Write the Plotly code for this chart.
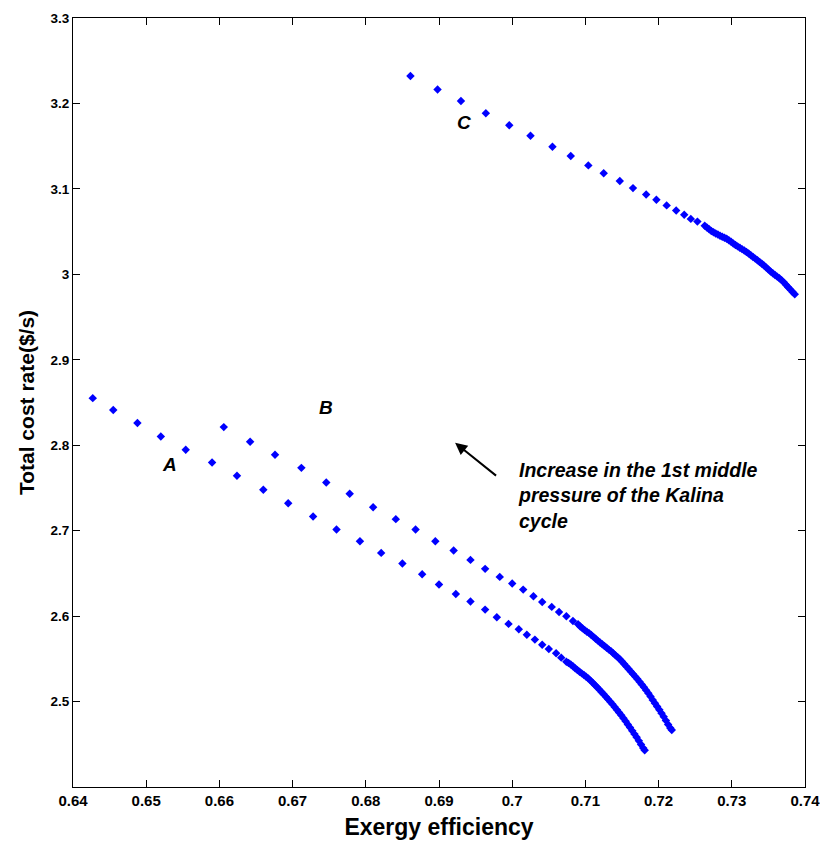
import plotly.graph_objects as go

# Pareto fronts: exergy efficiency vs. total cost rate ($/s)
a_eff = [0.6427, 0.6455, 0.6488, 0.6520, 0.6554, 0.6590, 0.6624, 0.6660, 0.6694, 0.6728,
         0.6760, 0.6792, 0.6821, 0.6850, 0.6877, 0.6900, 0.6923, 0.6943, 0.6963, 0.6979,
         0.6995, 0.7009, 0.7020, 0.7031, 0.7041, 0.7050, 0.7060, 0.7067, 0.7074,
         0.7077, 0.7080, 0.7083, 0.7086, 0.7089, 0.7092, 0.7095, 0.7098, 0.7101, 0.7104,
         0.7107, 0.7110, 0.7113, 0.7116, 0.7119, 0.7122, 0.7125, 0.7128, 0.7131, 0.7134,
         0.7137, 0.7140, 0.7143, 0.7146, 0.7149, 0.7152, 0.7155, 0.7158, 0.7161, 0.7164,
         0.7167, 0.7170, 0.7173, 0.7176, 0.7179, 0.7181]
a_cost = [2.8551, 2.8411, 2.8259, 2.8102, 2.7946, 2.7797, 2.7642, 2.7478, 2.7322, 2.7165,
          2.7013, 2.6875, 2.6740, 2.6615, 2.6491, 2.6369, 2.6260, 2.6170, 2.6076, 2.5987,
          2.5909, 2.5847, 2.5783, 2.5725, 2.5666, 2.5616, 2.5566, 2.5514, 2.5467,
          2.5452, 2.5433, 2.5412, 2.5390, 2.5369, 2.5349, 2.5330, 2.5310, 2.5291, 2.5270,
          2.5245, 2.5219, 2.5194, 2.5168, 2.5140, 2.5113, 2.5086, 2.5057, 2.5027, 2.4998,
          2.4968, 2.4937, 2.4905, 2.4873, 2.4840, 2.4805, 2.4770, 2.4732, 2.4695, 2.4657,
          2.4619, 2.4582, 2.4540, 2.4497, 2.4455, 2.4430]

b_eff = [0.6606, 0.6642, 0.6676, 0.6712, 0.6746, 0.6778, 0.6810, 0.6841, 0.6868, 0.6895,
         0.6920, 0.6943, 0.6963, 0.6983, 0.7000, 0.7015, 0.7029, 0.7041, 0.7054, 0.7064,
         0.7074, 0.7083, 0.7090,
         0.7093, 0.7096, 0.7099, 0.7102, 0.7105, 0.7108, 0.7111, 0.7114, 0.7117, 0.7120,
         0.7123, 0.7126, 0.7129, 0.7132, 0.7135, 0.7138, 0.7141, 0.7144, 0.7147, 0.7150,
         0.7153, 0.7156, 0.7159, 0.7162, 0.7165, 0.7168, 0.7171, 0.7174, 0.7177, 0.7180,
         0.7183, 0.7186, 0.7189, 0.7192, 0.7195, 0.7198, 0.7201, 0.7204, 0.7207, 0.7210,
         0.7213, 0.7216, 0.7218]
b_cost = [2.8212, 2.8040, 2.7888, 2.7735, 2.7563, 2.7431, 2.7275, 2.7135, 2.7013, 2.6877,
          2.6767, 2.6658, 2.6553, 2.6459, 2.6381, 2.6310, 2.6233, 2.6166, 2.6108, 2.6049,
          2.5999, 2.5944, 2.5905,
          2.5878, 2.5857, 2.5836, 2.5818, 2.5801, 2.5780, 2.5757, 2.5734, 2.5713, 2.5692,
          2.5670, 2.5650, 2.5629, 2.5608, 2.5590, 2.5566, 2.5543, 2.5520, 2.5495, 2.5468,
          2.5440, 2.5411, 2.5381, 2.5352, 2.5322, 2.5293, 2.5263, 2.5232, 2.5200, 2.5167,
          2.5132, 2.5096, 2.5058, 2.5019, 2.4981, 2.4943, 2.4903, 2.4863, 2.4821, 2.4777,
          2.4732, 2.4690, 2.4668]

c_eff = [0.6861, 0.6898, 0.6930, 0.6964, 0.6996, 0.7025, 0.7055, 0.7080, 0.7104, 0.7125,
         0.7147, 0.7165, 0.7183, 0.7197, 0.7211, 0.7224, 0.7235, 0.7244, 0.7253, 0.7263,
         0.7266, 0.7269, 0.7272, 0.7275, 0.7278, 0.7281, 0.7284, 0.7287, 0.7290, 0.7293,
         0.7296, 0.7299, 0.7302, 0.7305, 0.7308, 0.7311, 0.7314, 0.7317, 0.7320, 0.7323,
         0.7326, 0.7329, 0.7332, 0.7335, 0.7338, 0.7341, 0.7344, 0.7347, 0.7350, 0.7353,
         0.7356, 0.7359, 0.7362, 0.7365, 0.7368, 0.7371, 0.7374, 0.7377, 0.7380, 0.7383,
         0.7386]
c_cost = [3.2322, 3.2164, 3.2029, 3.1886, 3.1744, 3.1621, 3.1493, 3.1386, 3.1275, 3.1184,
          3.1092, 3.1009, 3.0934, 3.0874, 3.0807, 3.0748, 3.0697, 3.0649, 3.0617, 3.0569,
          3.0547, 3.0527, 3.0508, 3.0492, 3.0479, 3.0466, 3.0452, 3.0440, 3.0429, 3.0417,
          3.0399, 3.0381, 3.0362, 3.0344, 3.0327, 3.0311, 3.0295, 3.0278, 3.0261, 3.0243,
          3.0224, 3.0204, 3.0184, 3.0164, 3.0145, 3.0125, 3.0104, 3.0081, 3.0057, 3.0034,
          3.0013, 2.9993, 2.9973, 2.9954, 2.9932, 2.9906, 2.9879, 2.9850, 2.9822, 2.9794,
          2.9766]

x_ticks = [0.64, 0.65, 0.66, 0.67, 0.68, 0.69, 0.70, 0.71, 0.72, 0.73, 0.74]
x_tick_text = ["0.64", "0.65", "0.66", "0.67", "0.68", "0.69", "0.7", "0.71", "0.72", "0.73", "0.74"]
y_ticks = [2.5, 2.6, 2.7, 2.8, 2.9, 3.0, 3.1, 3.2, 3.3]
y_tick_text = ["2.5", "2.6", "2.7", "2.8", "2.9", "3", "3.1", "3.2", "3.3"]

# series labels and their positions
series_labels = ["A", "B", "C"]
label_x = [0.6532, 0.6745, 0.6934]
label_y = [2.777, 2.8438, 3.1775]

BLUE = "#0000FF"
marker = dict(symbol="diamond", size=6.5, color=BLUE, line=dict(width=0))

fig = go.Figure()
for name, xs, ys in [("A", a_eff, a_cost), ("B", b_eff, b_cost), ("C", c_eff, c_cost)]:
    fig.add_trace(go.Scatter(x=xs, y=ys, mode="markers", name=name, marker=marker,
                             showlegend=False))

for lbl, lx, ly in zip(series_labels, label_x, label_y):
    fig.add_annotation(x=lx, y=ly, text=f"<b><i>{lbl}</i></b>", showarrow=False,
                       font=dict(family="Liberation Sans, Arial", size=19, color="black"))

# arrow pointing in the direction of increasing 1st middle pressure
fig.add_annotation(x=0.6922, y=2.8028, ax=0.6980, ay=2.763, xref="x", yref="y",
                   axref="x", ayref="y", text="", showarrow=True, arrowhead=2,
                   arrowsize=1.2, arrowwidth=2, arrowcolor="black")
fig.add_annotation(x=0.7005, y=2.786, xanchor="left", yanchor="top", align="left",
                   text="<b><i>Increase in the 1st middle<br>pressure of the Kalina<br>cycle</i></b>",
                   showarrow=False,
                   font=dict(family="Liberation Sans, Arial", size=19.5, color="black"))

axis_common = dict(showline=True, linecolor="black", linewidth=1.2, mirror="ticks",
                   ticks="inside", ticklen=7, tickcolor="black", showgrid=False,
                   zeroline=False, ticklabeloverflow="allow", automargin=False)

fig.update_layout(
    width=820, height=845,
    margin=dict(l=73, r=15, t=18, b=58, autoexpand=False),
    paper_bgcolor="white", plot_bgcolor="white",
    xaxis=dict(range=[0.64, 0.74], tickvals=x_ticks, ticktext=x_tick_text,
               tickfont=dict(family="Liberation Sans Narrow, Arial Narrow, Liberation Sans",
                             size=15, color="black", weight="bold"),
               title=dict(text="<b>Exergy efficiency</b>", standoff=10,
                          font=dict(family="Liberation Sans, Arial", size=23, color="black")),
               **axis_common),
    yaxis=dict(range=[2.4, 3.3], tickvals=y_ticks, ticktext=y_tick_text,
               tickfont=dict(family="Liberation Sans, Arial", size=13.5, color="black",
                             weight="bold"),
               title=dict(text="<b>Total cost rate($/s)</b>", standoff=10,
                          font=dict(family="Liberation Sans Narrow, Arial Narrow, Liberation Sans",
                                    size=21, color="black")),
               **axis_common),
)

fig.write_html("out.html")
